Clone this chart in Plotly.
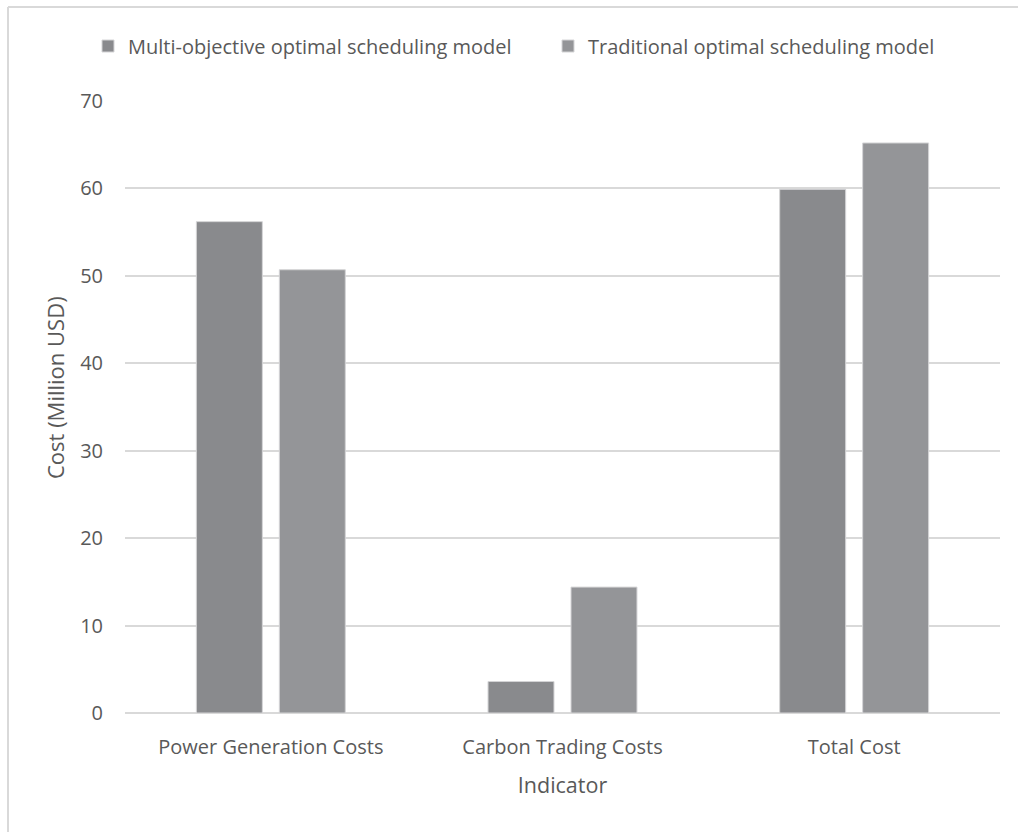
import plotly.graph_objects as go

# Cost comparison between the two scheduling models (million USD)
categories = ["Power Generation Costs", "Carbon Trading Costs", "Total Cost"]
multi_objective = [56.2, 3.6, 59.9]
traditional = [50.7, 14.4, 65.2]
series_names = ["Multi-objective optimal scheduling model", "Traditional optimal scheduling model"]
y_ticks = [0, 10, 20, 30, 40, 50, 60, 70]

FONT = "Open Sans"
TEXT = "#595959"
GRID = "#d9d9d9"

fig = go.Figure()
fig.add_trace(go.Bar(
    name=series_names[0], x=categories, y=multi_objective,
    marker=dict(color="#898a8d", line=dict(color="#d4d4d6", width=1)),
))
fig.add_trace(go.Bar(
    name=series_names[1], x=categories, y=traditional,
    marker=dict(color="#949598", line=dict(color="#d4d4d6", width=1)),
))

W, H = 1018, 832
L, R, T, B = 125, 18, 101, 119
pw, ph = W - L - R, H - T - B

def px_x(x):
    return (x - L) / pw

def px_y(y):
    return (H - B - y) / ph

# outer frame (top and left edges of the chart box)
frame = dict(color=GRID, width=2)
shapes = [
    dict(type="line", xref="paper", yref="paper", x0=px_x(8), x1=px_x(W), y0=px_y(7), y1=px_y(7), line=frame),
    dict(type="line", xref="paper", yref="paper", x0=px_x(8), x1=px_x(8), y0=px_y(7), y1=px_y(H), line=frame),
]

# value-axis title, placed as a rotated annotation
annotations = [
    dict(text="Cost (Million USD)", xref="paper", yref="paper", x=px_x(55), y=px_y(388),
         xanchor="center", yanchor="middle", textangle=-90, showarrow=False,
         font=dict(size=22, color=TEXT, family=FONT)),
]

fig.update_layout(
    width=W, height=H,
    margin=dict(l=L, r=R, t=T, b=B),
    paper_bgcolor="white", plot_bgcolor="white",
    barmode="group", bargap=0.431, bargroupgap=0.205,
    font=dict(family=FONT, color=TEXT, size=20),
    showlegend=True,
    legend=dict(
        orientation="h", x=px_x(88), y=px_y(46), xanchor="left", yanchor="middle",
        font=dict(size=20, color=TEXT), entrywidth=415, entrywidthmode="pixels",
        itemclick=False, traceorder="normal",
    ),
    xaxis=dict(
        showgrid=False, showline=False, ticks="", tickfont=dict(size=20, color=TEXT),
        ticklabelstandoff=20,
        title=dict(text="Indicator", font=dict(size=21.5, color=TEXT), standoff=18),
    ),
    yaxis=dict(
        range=[0, 70], tickvals=y_ticks, showgrid=True, gridcolor=GRID, gridwidth=2,
        zeroline=True, zerolinecolor=GRID, zerolinewidth=2, showline=False, ticks="",
        tickfont=dict(size=20, color=TEXT), ticklabelstandoff=21,
    ),
    shapes=shapes,
    annotations=annotations,
)

fig.write_html("out.html")
